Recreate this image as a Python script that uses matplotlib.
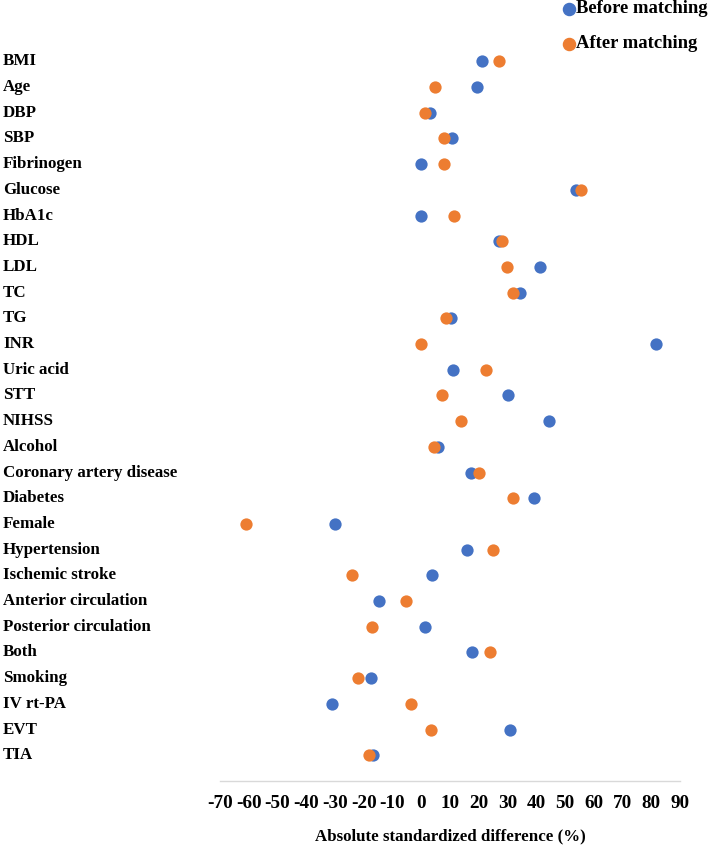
import matplotlib
matplotlib.use("Agg")
import matplotlib.pyplot as plt
from matplotlib.lines import Line2D

categories = ["BMI", "Age", "DBP", "SBP", "Fibrinogen", "Glucose", "HbA1c", "HDL",
              "LDL", "TC", "TG", "INR", "Uric acid", "STT", "NIHSS", "Alcohol",
              "Coronary artery disease", "Diabetes", "Female", "Hypertension",
              "Ischemic stroke", "Anterior circulation", "Posterior circulation",
              "Both", "Smoking", "IV rt-PA", "EVT", "TIA"]
before = [21.1, 19.3, 3.0, 10.7, 0.0, 53.8, 0.0, 27.2, 41.3, 34.3, 10.4, 81.5,
          11.2, 30.3, 44.4, 5.7, 17.2, 39.2, -30.0, 16.0, 3.7, -14.8, 1.3,
          17.5, -17.6, -30.9, 30.9, -16.7]
after = [27.2, 4.7, 1.3, 8.0, 8.0, 55.6, 11.4, 28.0, 29.9, 31.9, 8.6, 0.0,
         22.4, 7.2, 13.9, 4.5, 20.2, 31.8, -60.9, 25.0, -24.2, -5.4, -17.1,
         24.0, -22.0, -3.4, 3.4, -18.1]
series_names = ["Before matching", "After matching"]
xticks = list(range(-70, 100, 10))
x_title = "Absolute standardized difference (%)"

BLUE = "#4472C4"
ORANGE = "#ED7D31"
FONT = "Liberation Serif"

W, H = 711, 848
fig = plt.figure(figsize=(W / 100, H / 100), dpi=100)
ax = fig.add_axes([220 / W, 1 - 781 / H, 460 / W, (781 - 35.6) / H])

n = len(categories)
ys = [n - i for i in range(n)]
ax.scatter(before, ys, s=78, color=BLUE, linewidths=0, zorder=3)
ax.scatter(after, ys, s=78, color=ORANGE, linewidths=0, zorder=4)

ax.set_xlim(-70, 90)
ax.set_ylim(0, n + 1)
ax.set_xticks(xticks)
ax.set_xticklabels([str(t) for t in xticks], fontfamily=FONT, fontweight="bold", fontsize=13.8)
ax.tick_params(axis="x", length=0, pad=10)
ax.set_yticks([])
for s in ["top", "right", "left"]:
    ax.spines[s].set_visible(False)
ax.spines["bottom"].set_color("#D9D9D9")
ax.spines["bottom"].set_linewidth(1.0)
ax.set_xlabel(x_title, fontfamily=FONT, fontweight="bold", fontsize=12.2, labelpad=12)

# category labels at the far left
for lab, y in zip(categories, ys):
    ax.annotate(lab, xy=(0, y), xycoords=("figure fraction", "data"),
                xytext=(3, 0), textcoords="offset pixels",
                ha="left", va="center", fontfamily=FONT, fontweight="bold", fontsize=12.2)

# legend (top right)
leg_y = [1 - 8.5 / H, 1 - 43.5 / H]
for name, col, yy in zip(series_names, [BLUE, ORANGE], leg_y):
    fig.add_artist(Line2D([568.5 / W], [yy], marker="o", markersize=8.7, color=col,
                          linestyle="none", transform=fig.transFigure))
    fig.text(576 / W, yy, name, ha="left", va="center", fontfamily=FONT,
             fontweight="bold", fontsize=13.4)

fig.savefig("out.png", dpi=100)
